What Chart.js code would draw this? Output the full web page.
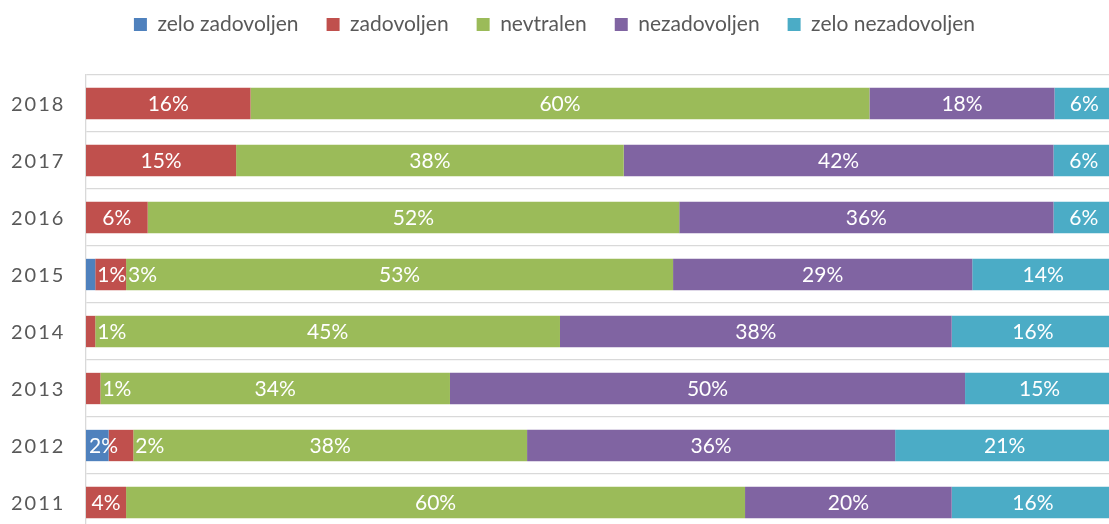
<!DOCTYPE html>
<html>
<head>
<meta charset="utf-8">
<script src="https://cdn.jsdelivr.net/npm/chart.js@4"></script>
<style>
  html, body { margin: 0; padding: 0; overflow: hidden; background: #fff; }
  #wrap { width: 1109px; height: 532px; }
</style>
</head>
<body>
<div id="wrap"><canvas id="grafikon" width="1109" height="532"></canvas></div>
<script>
const leta = ['2018', '2017', '2016', '2015', '2014', '2013', '2012', '2011'];
const zeloZadovoljen = [0, 0, 0, 0.9, 0, 0, 2.2, 0];
const zadovoljen = [16.0, 14.6, 6.0, 3.0, 0.9, 1.4, 2.4, 3.9];
const nevtralen = [60.2, 37.7, 51.7, 53.2, 45.2, 34.0, 38.3, 60.2];
const nezadovoljen = [18.0, 41.8, 36.4, 29.1, 38.1, 50.1, 35.8, 20.1];
const zeloNezadovoljen = [5.8, 5.9, 5.9, 13.8, 15.8, 14.5, 21.3, 15.8];

const pisava = 'Lato, "Open Sans", sans-serif';

// oznake let (z razmikom med črkami)
const oznakeLet = {
    id: 'oznakeLet',
    afterDraw(chart) {
        const ctx = chart.ctx;
        const y = chart.scales.y;
        ctx.save();
        ctx.font = '20px ' + pisava;
        ctx.fillStyle = '#595959';
        ctx.textAlign = 'left';
        ctx.textBaseline = 'middle';
        ctx.letterSpacing = '2px';
        leta.forEach((l, i) => {
            ctx.fillText(l, 11, y.getPixelForValue(i) + 1);
        });
        ctx.restore();
    }
};

// odstotki na stolpcih
const odstotki = {
    id: 'odstotki',
    afterDatasetsDraw(chart) {
        const ctx = chart.ctx;
        ctx.save();
        ctx.font = '21px ' + pisava;
        ctx.fillStyle = '#ffffff';
        ctx.textBaseline = 'middle';
        ctx.textAlign = 'left';
        leta.forEach((l, i) => {
            const oznake = [];
            chart.data.datasets.forEach((ds, d) => {
                const v = ds.data[i];
                if (Math.round(v) === 0) return;
                const el = chart.getDatasetMeta(d).data[i];
                const zac = Math.min(el.base, el.x);
                const kon = Math.max(el.base, el.x);
                const txt = Math.round(v) + '%';
                const w = ctx.measureText(txt).width;
                const fits = w + 6 <= kon - zac;
                let x = fits ? (zac + kon) / 2 - w / 2 : kon + 2;
                oznake.push({ txt, w, x, y: el.y, fits, zac, kon });
            });
            for (let k = 0; k < oznake.length - 1; k++) {
                const o = oznake[k], n = oznake[k + 1];
                if (!o.fits && n.x < o.x + o.w) {
                    o.x = Math.max(o.zac + 3, (o.zac + o.kon) / 2 - o.w / 2);
                }
            }
            oznake.forEach(o => ctx.fillText(o.txt, o.x, o.y + 1));
        });
        ctx.restore();
    }
};

new Chart(document.getElementById('grafikon'), {
    type: 'bar',
    data: {
        labels: leta,
        datasets: [
            { label: 'zelo zadovoljen', data: zeloZadovoljen, backgroundColor: '#4F81BD' },
            { label: 'zadovoljen', data: zadovoljen, backgroundColor: '#C0504D' },
            { label: 'nevtralen', data: nevtralen, backgroundColor: '#9BBB59' },
            { label: 'nezadovoljen', data: nezadovoljen, backgroundColor: '#8064A2' },
            { label: 'zelo nezadovoljen', data: zeloNezadovoljen, backgroundColor: '#4BACC6' }
        ]
    },
    options: {
        indexAxis: 'y',
        responsive: false,
        animation: false,
        datasets: {
            bar: { categoryPercentage: 1, barPercentage: 0.55 }
        },
        layout: { padding: { top: -14, left: 0, right: 0, bottom: 1 } },
        plugins: {
            legend: {
                position: 'top',
                labels: {
                    boxWidth: 13,
                    boxHeight: 13,
                    padding: 28,
                    color: '#595959',
                    font: { family: pisava, size: 21 }
                }
            },
            title: {
                display: true,
                text: ' ',
                weight: 500,
                padding: 9,
                font: { size: 10 }
            },
            tooltip: { enabled: false }
        },
        scales: {
            x: {
                stacked: true,
                display: false,
                min: 0,
                max: 99.5
            },
            y: {
                stacked: true,
                afterFit(scale) { scale.width = 86; },
                ticks: { display: false },
                grid: { color: '#d9d9d9', lineWidth: 1.3, drawTicks: false, offset: true },
                border: { color: '#d9d9d9', width: 1.3 }
            }
        }
    },
    plugins: [oznakeLet, odstotki]
});
</script>
</body>
</html>
